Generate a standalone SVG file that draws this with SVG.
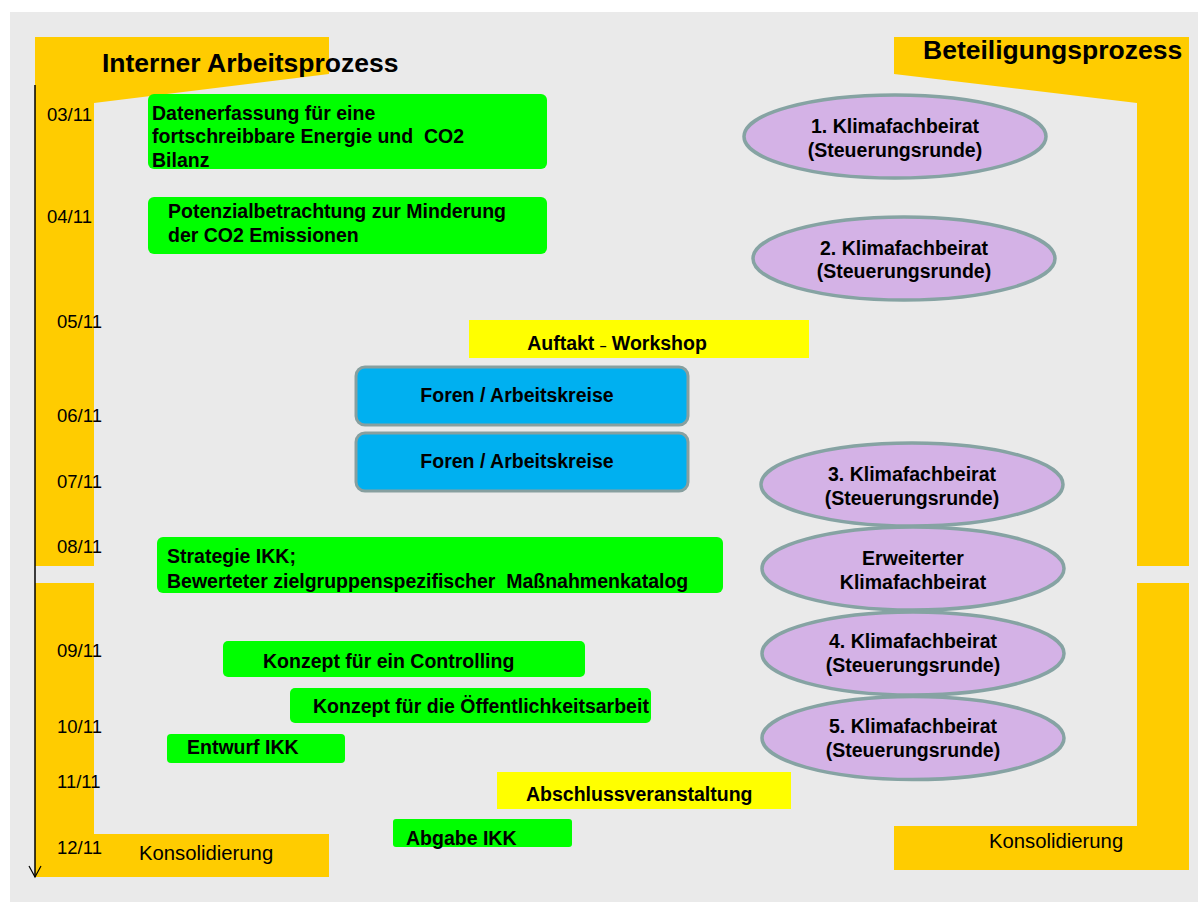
<svg xmlns="http://www.w3.org/2000/svg" width="1198" height="902" viewBox="0 0 1198 902">
<defs>
<style>
.b{font-family:"Liberation Sans",Arial,sans-serif;font-weight:bold;font-size:19.5px;fill:#000}
.r{font-family:"Liberation Sans",Arial,sans-serif;font-size:18.5px;fill:#000}
.t{font-family:"Liberation Sans",Arial,sans-serif;font-weight:bold;font-size:26.5px;fill:#000}
.k{font-family:"Liberation Sans",Arial,sans-serif;font-size:20.3px;fill:#000}
.g{fill:#00FF00}
.y{fill:#FFFF00}
.o{fill:#FFCC00}
.f{fill:#00B0F0;stroke:#879F9F;stroke-width:3}
.e{fill:#D4B2E6;stroke:#86A3A3;stroke-width:3.5}
.m{text-anchor:middle}
</style>
<marker id="ah" markerWidth="14" markerHeight="14" refX="12" refY="7" orient="auto" markerUnits="userSpaceOnUse">
<path d="M1,1 L12,7 L1,13" fill="none" stroke="#000" stroke-width="1.2"/>
</marker>
</defs>
<rect x="10" y="12" width="1188" height="890" fill="#EAEAEA"/>

<g id="lane-intern">
<polygon class="o" points="35,37 329,37 329,74 94,103 94,566 35,566"/>
<polygon class="o" points="35,583 94,583 94,834 329,834 329,877 35,877"/>
<text class="t" x="102" y="72">Interner Arbeitsprozess</text>
<text class="k" x="139" y="860">Konsolidierung</text>
</g>

<g id="lane-beteiligung">
<polygon class="o" points="894,37 1189,37 1189,566 1137,566 1137,103 894,74"/>
<polygon class="o" points="1137,583 1189,583 1189,870 894,870 894,826 1137,826"/>
<text class="t" x="923" y="59">Beteiligungsprozess</text>
<text class="k" x="989" y="848">Konsolidierung</text>
</g>

<g id="connectors">
<line x1="35" y1="85" x2="35" y2="877" stroke="#000" stroke-width="1.5" marker-end="url(#ah)"/>
</g>

<g id="dates">
<text class="r" x="47" y="121">03/11</text>
<text class="r" x="47" y="223">04/11</text>
<text class="r" x="57" y="328">05/11</text>
<text class="r" x="57" y="422">06/11</text>
<text class="r" x="57" y="488">07/11</text>
<text class="r" x="57" y="553">08/11</text>
<text class="r" x="57" y="657">09/11</text>
<text class="r" x="57" y="733">10/11</text>
<text class="r" x="57" y="788">11/11</text>
<text class="r" x="57" y="854">12/11</text>
</g>

<g id="n-datenerfassung">
<rect class="g" x="148" y="94" width="399" height="75" rx="6"/>
<text class="b" x="152" y="120">Datenerfassung für eine</text>
<text class="b" x="152" y="143" xml:space="preserve">fortschreibbare Energie und  CO2</text>
<text class="b" x="152" y="167">Bilanz</text>
</g>

<g id="n-potenzial">
<rect class="g" x="148" y="197" width="399" height="57" rx="6"/>
<text class="b" x="168" y="218">Potenzialbetrachtung zur Minderung</text>
<text class="b" x="168" y="242">der CO2 Emissionen</text>
</g>

<g id="n-auftakt">
<rect class="y" x="469" y="320" width="340" height="38"/>
<text class="b m" x="617" y="350">Auftakt <tspan font-size="12px">–</tspan> Workshop</text>
</g>

<g id="n-foren1">
<rect class="f" x="356" y="367" width="332" height="58" rx="9"/>
<text class="b m" x="517" y="402">Foren / Arbeitskreise</text>
</g>

<g id="n-foren2">
<rect class="f" x="356" y="433" width="332" height="58" rx="9"/>
<text class="b m" x="517" y="468">Foren / Arbeitskreise</text>
</g>

<g id="n-strategie">
<rect class="g" x="157" y="537" width="566" height="56" rx="6"/>
<text class="b" x="167" y="563">Strategie IKK;</text>
<text class="b" x="167" y="588" xml:space="preserve">Bewerteter zielgruppenspezifischer  Maßnahmenkatalog</text>
</g>

<g id="n-controlling">
<rect class="g" x="223" y="641" width="362" height="36" rx="5"/>
<text class="b" x="263" y="668">Konzept für ein Controlling</text>
</g>

<g id="n-oeffentlichkeit">
<rect class="g" x="290" y="688" width="361" height="35" rx="5"/>
<text class="b" x="313" y="713">Konzept für die Öffentlichkeitsarbeit</text>
</g>

<g id="n-entwurf">
<rect class="g" x="167" y="734" width="178" height="29" rx="4"/>
<text class="b" x="187" y="754">Entwurf IKK</text>
</g>

<g id="n-abschluss">
<rect class="y" x="497" y="772" width="294" height="37"/>
<text class="b" x="526" y="801">Abschlussveranstaltung</text>
</g>

<g id="n-abgabe">
<rect class="g" x="393" y="819" width="179" height="28" rx="3"/>
<text class="b" x="406" y="845">Abgabe IKK</text>
</g>

<g id="n-kfb1">
<ellipse class="e" cx="895" cy="136.5" rx="151" ry="41.5"/>
<text class="b m" x="895" y="133">1. Klimafachbeirat</text>
<text class="b m" x="895" y="157">(Steuerungsrunde)</text>
</g>

<g id="n-kfb2">
<ellipse class="e" cx="904" cy="258.5" rx="151" ry="41.5"/>
<text class="b m" x="904" y="255">2. Klimafachbeirat</text>
<text class="b m" x="904" y="278">(Steuerungsrunde)</text>
</g>

<g id="n-kfb3">
<ellipse class="e" cx="912" cy="484.5" rx="151" ry="41.5"/>
<text class="b m" x="912" y="481">3. Klimafachbeirat</text>
<text class="b m" x="912" y="505">(Steuerungsrunde)</text>
</g>

<g id="n-kfb-erweitert">
<ellipse class="e" cx="913" cy="568.5" rx="151" ry="41.5"/>
<text class="b m" x="913" y="565">Erweiterter</text>
<text class="b m" x="913" y="589">Klimafachbeirat</text>
</g>

<g id="n-kfb4">
<ellipse class="e" cx="913" cy="653.5" rx="151" ry="41.5"/>
<text class="b m" x="913" y="648">4. Klimafachbeirat</text>
<text class="b m" x="913" y="672">(Steuerungsrunde)</text>
</g>

<g id="n-kfb5">
<ellipse class="e" cx="913" cy="738" rx="151" ry="41.5"/>
<text class="b m" x="913" y="733">5. Klimafachbeirat</text>
<text class="b m" x="913" y="757">(Steuerungsrunde)</text>
</g>
</svg>
